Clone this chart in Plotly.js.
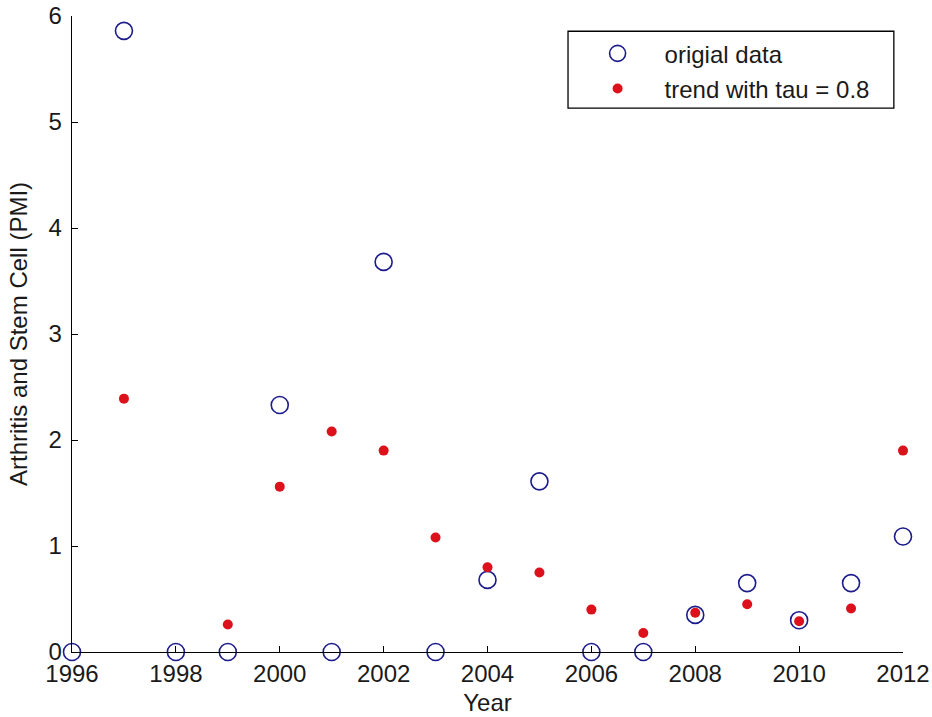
<!DOCTYPE html>
<html>
<head>
<meta charset="utf-8">
<script src="https://cdn.plot.ly/plotly-3.0.1.min.js"></script>
<style>html,body{margin:0;padding:0;background:#fff;}#chart{width:932px;height:717px;}</style>
</head>
<body>
<div id="chart"></div>
<script>
const origYears = [1996,1997,1998,1999,2000,2001,2002,2003,2004,2005,2006,2007,2008,2009,2010,2011,2012];
const origValues = [0,5.86,0,0,2.33,0,3.68,0,0.68,1.61,0,0,0.35,0.65,0.30,0.65,1.09];
const trendYears = [1997,1999,2000,2001,2002,2003,2004,2005,2006,2007,2008,2009,2010,2011,2012];
const trendValues = [2.39,0.26,1.56,2.08,1.90,1.08,0.80,0.75,0.40,0.18,0.37,0.45,0.29,0.41,1.90];
const xTicks = [1996,1998,2000,2002,2004,2006,2008,2010,2012];
const yTicks = [0,1,2,3,4,5,6];

const font = {family: 'Liberation Sans, Arial, sans-serif', size: 24, color: '#1a1a1a'};

const traces = [
  {x: origYears, y: origValues, mode: 'markers', type: 'scatter', name: 'origial data', legendgroup: 'a',
   marker: {symbol: 'circle-open', size: 17, color: '#1c1c8c', line: {width: 1.6, color: '#1c1c8c'}}, cliponaxis: false},
  {x: trendYears, y: trendValues, mode: 'markers', type: 'scatter', name: 'trend with tau = 0.8', legendgroup: 'b',
   marker: {symbol: 'circle', size: 10, color: '#dc111b'}, cliponaxis: false}
];

const layout = {
  width: 932, height: 717,
  margin: {l: 72, r: 29, t: 16, b: 65},
  paper_bgcolor: '#fff', plot_bgcolor: '#fff',
  font: font,
  showlegend: true,
  legend: {x: 0.6, y: 0.976, xanchor: 'left', yanchor: 'top', borderwidth: 0,
           bgcolor: 'rgba(0,0,0,0)', font: font, itemwidth: 84, tracegroupgap: 1},
  shapes: [{type: 'rect', xref: 'paper', yref: 'paper', x0: 0.5969, x1: 0.989, y0: 0.855, y1: 0.976,
            line: {color: '#000', width: 1.3}, fillcolor: 'rgba(0,0,0,0)', layer: 'below'}],
  xaxis: {range: [1996, 2012], tickvals: xTicks, ticktext: xTicks.map(String), ticks: 'inside', ticklen: 6,
          tickcolor: '#000', showline: true, linecolor: '#000', linewidth: 1.3, showgrid: false, zeroline: false,
          mirror: false, title: {text: 'Year', font: font, standoff: 8}, tickfont: font},
  yaxis: {range: [0, 6], tickvals: yTicks, ticks: 'inside', ticklen: 6, tickcolor: '#000', showline: true,
          linecolor: '#000', linewidth: 1.3, showgrid: false, zeroline: false, ticklabelstandoff: 4,
          title: {text: 'Arthritis and Stem Cell (PMI)', font: font, standoff: 14}, tickfont: font}
};

Plotly.newPlot('chart', traces, layout, {displayModeBar: false, staticPlot: true});
</script>
</body>
</html>
